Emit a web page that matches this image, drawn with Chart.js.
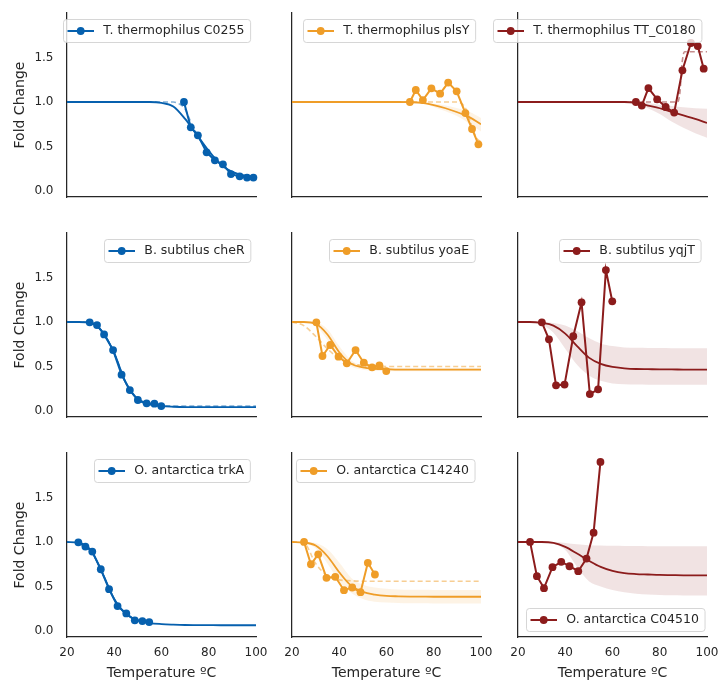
<!DOCTYPE html>
<html><head><meta charset="utf-8">
<script src="https://cdn.jsdelivr.net/npm/chart.js@4.4.1/dist/chart.umd.min.js"></script>
<style>
html,body{margin:0;padding:0;background:#fff;overflow:hidden;width:719px;height:682px;}
canvas{position:absolute;}
</style></head><body>
<script>
// ---------------- DATA ----------------
const panelNames = [
  'T. thermophilus C0255', 'T. thermophilus plsY', 'T. thermophilus TT_C0180',
  'B. subtilus cheR', 'B. subtilus yoaE', 'B. subtilus yqjT',
  'O. antarctica trkA', 'O. antarctica C14240', 'O. antarctica C04510'
];
const columnColors = ['#0660ae', '#ef9d28', '#8c1c1c'];
const xTicks = [20, 40, 60, 80, 100];
const yTicks = [0, 0.5, 1.0, 1.5];

const measuredTemps = [
  [69.5, 72.4, 75.4, 79.1, 82.6, 86.0, 89.4, 93.1, 96.2, 98.9],
  [69.9, 72.4, 75.4, 79.0, 82.7, 86.1, 89.7, 93.4, 96.2, 98.9],
  [69.9, 72.4, 75.2, 78.9, 82.5, 86.1, 89.6, 93.2, 96.1, 98.6],
  [29.6, 32.7, 35.7, 39.5, 43.1, 46.6, 50.0, 53.7, 57.0, 59.9],
  [30.3, 32.9, 36.2, 39.7, 43.2, 46.9, 50.4, 53.9, 57.0, 59.9],
  [30.1, 33.1, 36.1, 39.7, 43.4, 46.9, 50.4, 53.9, 57.2, 59.9],
  [24.8, 27.8, 30.7, 34.3, 37.8, 41.4, 45.1, 48.7, 51.9, 54.8],
  [25.1, 28.0, 31.1, 34.6, 38.3, 42.0, 45.5, 49.0, 52.1, 55.1],
  [25.1, 28.0, 31.0, 34.6, 38.3, 41.8, 45.5, 49.0, 52.0, 54.9]
];
const measuredFold = [
  [1.0, 0.716, 0.626, 0.435, 0.345, 0.300, 0.191, 0.165, 0.151, 0.151],
  [1.0, 1.135, 1.022, 1.154, 1.094, 1.218, 1.120, 0.876, 0.697, 0.525],
  [1.0, 0.960, 1.157, 1.030, 0.944, 0.881, 1.356, 1.663, 1.629, 1.375],
  [0.997, 0.966, 0.861, 0.685, 0.409, 0.236, 0.124, 0.087, 0.083, 0.056],
  [0.997, 0.618, 0.742, 0.611, 0.536, 0.685, 0.543, 0.491, 0.513, 0.449],
  [0.997, 0.806, 0.289, 0.297, 0.840, 1.221, 0.191, 0.244, 1.584, 1.233],
  [0.997, 0.949, 0.893, 0.694, 0.470, 0.280, 0.198, 0.120, 0.112, 0.101],
  [1.001, 0.750, 0.862, 0.598, 0.609, 0.459, 0.489, 0.437, 0.766, 0.635],
  [1.001, 0.616, 0.482, 0.717, 0.777, 0.728, 0.672, 0.814, 1.105, 1.900]
];

const fitGrid = [20, 25, 30, 35, 40, 45, 50, 55, 60, 65, 70, 75, 80, 85, 90, 95, 100];
const fitMid = [
  [1,1,1,1,1,1,1,1,0.99,0.95,0.81,0.63,0.45,0.30,0.215,0.175,0.155],
  [1,1,1,1,1,1,1,1,1,1,0.998,0.99,0.965,0.93,0.885,0.83,0.75],
  [1,1,1,1,1,1,1,1,1,1,0.99,0.96,0.93,0.89,0.85,0.81,0.765],
  [1,1,0.99,0.89,0.65,0.31,0.13,0.075,0.055,0.048,0.045,0.045,0.045,0.045,0.045,0.045,0.045],
  [1,1,0.98,0.86,0.66,0.53,0.49,0.475,0.47,0.465,0.465,0.465,0.465,0.465,0.465,0.465,0.465],
  [1,1,0.99,0.96,0.87,0.73,0.60,0.53,0.495,0.48,0.472,0.47,0.468,0.467,0.466,0.465,0.465],
  [1,0.99,0.91,0.65,0.36,0.19,0.12,0.09,0.078,0.072,0.068,0.067,0.066,0.065,0.065,0.065,0.065],
  [1,0.995,0.96,0.84,0.66,0.51,0.44,0.41,0.395,0.39,0.387,0.386,0.385,0.385,0.385,0.385,0.385],
  [1,1,1,0.99,0.945,0.87,0.79,0.72,0.675,0.65,0.64,0.635,0.63,0.628,0.626,0.625,0.625]
];
const fitHi = [
  [1,1,1,1,1,1,1,1,0.995,0.965,0.83,0.65,0.465,0.315,0.225,0.185,0.165],
  [1,1,1,1,1,1,1,1,1,1,1,0.995,0.98,0.96,0.93,0.89,0.82],
  [1,1,1,1,1,1,1,1,1,1,1,0.99,0.97,0.955,0.94,0.93,0.925],
  [1,1,0.995,0.90,0.67,0.33,0.145,0.085,0.063,0.055,0.052,0.052,0.052,0.052,0.052,0.052,0.052],
  [1,1,0.995,0.92,0.73,0.57,0.51,0.49,0.485,0.483,0.482,0.482,0.482,0.482,0.482,0.482,0.482],
  [1,1,1,0.99,0.96,0.90,0.82,0.76,0.73,0.715,0.71,0.708,0.707,0.706,0.705,0.705,0.705],
  [1,0.995,0.92,0.67,0.38,0.20,0.13,0.098,0.085,0.079,0.075,0.074,0.073,0.072,0.072,0.072,0.072],
  [1,1,0.99,0.92,0.77,0.60,0.52,0.49,0.475,0.468,0.465,0.463,0.462,0.461,0.46,0.46,0.46],
  [1,1,1,1,0.99,0.975,0.965,0.96,0.957,0.955,0.954,0.953,0.953,0.952,0.952,0.952,0.952]
];
const fitLo = [
  [1,1,1,1,1,1,1,1,0.985,0.935,0.79,0.61,0.435,0.285,0.205,0.165,0.145],
  [1,1,1,1,1,1,1,1,1,1,0.996,0.985,0.945,0.895,0.84,0.76,0.67],
  [1,1,1,1,1,1,1,1,1,1,0.985,0.93,0.865,0.78,0.71,0.65,0.60],
  [1,1,0.985,0.88,0.63,0.29,0.115,0.065,0.047,0.041,0.038,0.038,0.038,0.038,0.038,0.038,0.038],
  [1,1,0.965,0.80,0.60,0.50,0.465,0.452,0.448,0.447,0.447,0.447,0.447,0.447,0.447,0.447,0.447],
  [1,1,0.97,0.88,0.70,0.52,0.40,0.34,0.31,0.30,0.297,0.296,0.295,0.295,0.295,0.295,0.295],
  [1,0.985,0.90,0.63,0.34,0.18,0.11,0.082,0.071,0.065,0.061,0.06,0.059,0.058,0.058,0.058,0.058],
  [1,0.99,0.93,0.76,0.56,0.43,0.36,0.33,0.32,0.315,0.312,0.311,0.31,0.31,0.31,0.31,0.31],
  [1,1,1,0.98,0.91,0.72,0.56,0.50,0.46,0.435,0.42,0.41,0.405,0.402,0.40,0.40,0.40]
];
const dashTemps = [
  [20, 65, 68, 70, 72, 74, 76, 80, 85, 90, 95, 100],
  [20, 90, 92, 94, 96, 98, 100],
  [20, 87.5, 88.5, 89.5, 90.5, 100],
  fitGrid,
  fitGrid,
  [],
  [],
  fitGrid,
  []
];
const dashFold = [
  [1, 1, 0.97, 0.92, 0.80, 0.69, 0.59, 0.45, 0.30, 0.215, 0.175, 0.155],
  [1, 1, 0.98, 0.90, 0.74, 0.60, 0.55],
  [1, 1, 1.10, 1.45, 1.565, 1.565],
  [1,1,0.99,0.89,0.65,0.31,0.135,0.08,0.062,0.057,0.055,0.055,0.055,0.055,0.055,0.055,0.055],
  [1,0.96,0.84,0.70,0.59,0.535,0.51,0.505,0.50,0.50,0.50,0.50,0.50,0.50,0.50,0.50,0.50],
  [],
  [],
  [1,0.99,0.76,0.62,0.575,0.565,0.56,0.56,0.56,0.56,0.56,0.56,0.56,0.56,0.56,0.56,0.56],
  []
];
const legendCorner = ['ur','ur','ur','ur','ur','ur','ur','ur','lr'];

// ---------------- LAYOUT / STYLE ----------------
const FONT = '"DejaVu Sans", "Liberation Sans", sans-serif';
const TXT = '#262626';
const plotLefts = [67, 292, 518];
const plotTops = [13, 233, 453];
const PW = 189, PH = 184;
const LEFT = 62, TOP = 13, RIGHT = 12, BOTTOM = 45;

function rgba(hex, a) {
  const n = parseInt(hex.slice(1), 16);
  return `rgba(${(n >> 16) & 255},${(n >> 8) & 255},${n & 255},${a})`;
}
const pts = (xs, ys) => xs.map((x, k) => ({x, y: ys[k]}));

const panelLegend = {
  id: 'panelLegend',
  afterDraw(chart, args, opts) {
    const {ctx, chartArea: a} = chart;
    ctx.save();
    ctx.font = '12.5px ' + FONT;
    const tw = ctx.measureText(opts.text).width;
    const w = tw + 46, h = 23;
    const x = Math.round(a.right - opts.padRight - w);
    const y = opts.corner === 'lr' ? Math.round(a.bottom - 6 - h) : Math.round(a.top + 6);
    ctx.beginPath();
    ctx.roundRect(x + 0.5, y + 0.5, w, h, 3);
    ctx.fillStyle = 'rgba(255,255,255,0.8)';
    ctx.fill();
    ctx.strokeStyle = 'rgba(204,204,204,0.8)';
    ctx.lineWidth = 1;
    ctx.stroke();
    const cy = y + h / 2 + 0.5;
    ctx.strokeStyle = opts.color;
    ctx.lineWidth = 2;
    ctx.beginPath(); ctx.moveTo(x + 4.5, cy); ctx.lineTo(x + 31, cy); ctx.stroke();
    ctx.fillStyle = opts.color;
    ctx.beginPath(); ctx.arc(x + 17.7, cy, 3.9, 0, Math.PI * 2); ctx.fill();
    ctx.fillStyle = TXT;
    ctx.textBaseline = 'middle';
    ctx.textAlign = 'left';
    ctx.fillText(opts.text, x + 40.3, cy);
    ctx.restore();
  }
};

for (let i = 0; i < 9; i++) {
  const r = Math.floor(i / 3), c = i % 3;
  const col = columnColors[c];
  const cv = document.createElement('canvas');
  const cw = LEFT + PW + RIGHT, ch = TOP + PH + BOTTOM;
  cv.width = cw; cv.height = ch;
  cv.style.left = (plotLefts[c] - LEFT) + 'px';
  cv.style.top = (plotTops[r] - TOP) + 'px';
  cv.style.width = cw + 'px'; cv.style.height = ch + 'px';
  document.body.appendChild(cv);

  const transparentGrid = (len) => ({display: true, color: 'rgba(0,0,0,0)', drawOnChartArea: false, drawTicks: true, tickLength: len});

  new Chart(cv, {
    type: 'line',
    data: {
      datasets: [
        {data: pts(measuredTemps[i], measuredFold[i]), borderColor: col, backgroundColor: col,
         pointBackgroundColor: col, pointBorderColor: col, borderWidth: 2, pointRadius: 3.9,
         pointBorderWidth: 0, tension: 0, fill: false, clip: 6},
        {data: pts(fitGrid, fitMid[i]), borderColor: col, borderWidth: 1.8, pointRadius: 0,
         cubicInterpolationMode: 'monotone', fill: false},
        {data: pts(dashTemps[i], dashFold[i]), borderColor: rgba(col, 0.5), borderWidth: 1.6,
         borderDash: [5, 3], pointRadius: 0, cubicInterpolationMode: 'monotone', fill: false},
        {data: pts(fitGrid, fitHi[i]), borderColor: 'rgba(0,0,0,0)', borderWidth: 1, pointRadius: 0,
         cubicInterpolationMode: 'monotone', fill: '+1', backgroundColor: rgba(col, 0.12)},
        {data: pts(fitGrid, fitLo[i]), borderColor: 'rgba(0,0,0,0)', borderWidth: 1, pointRadius: 0,
         cubicInterpolationMode: 'monotone', fill: false}
      ]
    },
    options: {
      responsive: false, animation: false, devicePixelRatio: 1, events: [],
      layout: {padding: {left: 0, top: TOP, right: RIGHT, bottom: 0}},
      plugins: {
        legend: {display: false}, tooltip: {enabled: false},
        panelLegend: {text: panelNames[i], color: col, corner: legendCorner[i], padRight: legendCorner[i] === 'lr' ? 2 : 6}
      },
      scales: {
        x: {
          type: 'linear', min: 20, max: 100,
          afterFit: s => { s.height = BOTTOM; },
          afterBuildTicks: s => { s.ticks = xTicks.map(v => ({value: v})); },
          grid: transparentGrid(9),
          border: {display: true, color: TXT, width: 1.25},
          ticks: {display: r === 2, padding: 0, color: TXT, font: {family: FONT, size: 12},
                  maxRotation: 0, autoSkip: false, callback: v => String(v)},
          title: {display: r === 2, text: 'Temperature ºC', color: TXT,
                  font: {family: FONT, size: 14}, padding: {top: 0, bottom: 0.5}}
        },
        y: {
          type: 'linear', min: -0.067, max: 2.0,
          afterFit: s => { s.width = LEFT; },
          afterBuildTicks: s => { s.ticks = yTicks.map(v => ({value: v})); },
          grid: transparentGrid(13.5),
          border: {display: true, color: TXT, width: 1.25},
          ticks: {display: c === 0, padding: 0, color: TXT, font: {family: FONT, size: 12},
                  autoSkip: false, callback: v => Number(v).toFixed(1)},
          title: {display: c === 0, text: 'Fold Change', color: TXT,
                  font: {family: FONT, size: 14}, padding: {top: 7.3, bottom: 0}}
        }
      }
    },
    plugins: [panelLegend]
  });
}
</script>
</body></html>
